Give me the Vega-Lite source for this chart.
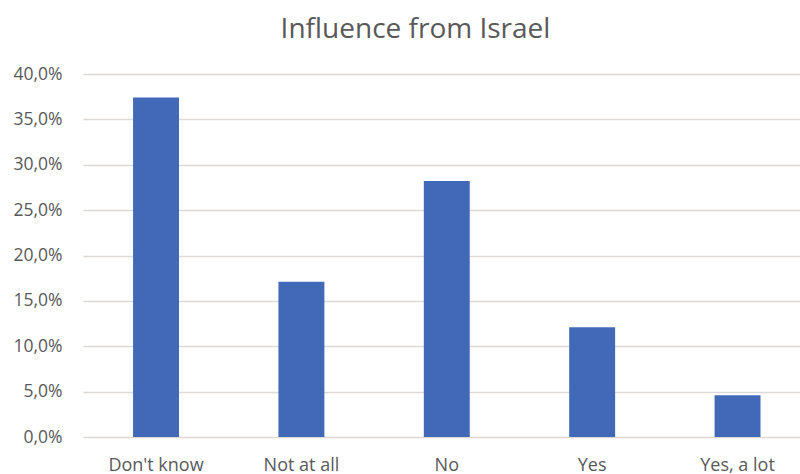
{
  "$schema": "https://vega.github.io/schema/vega-lite/v6.json",
  "autosize": {"type": "none"},
  "width": 717,
  "height": 363,
  "padding": {"left": 83, "top": 74, "right": 0, "bottom": 37},
  "background": "white",
  "title": {
    "text": "Influence from Israel",
    "font": "Open Sans",
    "fontSize": 28,
    "fontWeight": "normal",
    "color": "#595959",
    "anchor": "middle",
    "offset": 21,
    "dx": -26
  },
  "data": {
    "values": [
      {"answer": "Don't know", "share": 0.374},
      {"answer": "Not at all", "share": 0.171},
      {"answer": "No", "share": 0.282},
      {"answer": "Yes", "share": 0.121},
      {"answer": "Yes, a lot", "share": 0.046}
    ]
  },
  "mark": {"type": "bar", "color": "#4169B8"},
  "encoding": {
    "x": {
      "field": "answer",
      "type": "nominal",
      "sort": null,
      "scale": {"paddingInner": 0.684, "paddingOuter": 0.308, "align": 0.559},
      "axis": {
        "title": null,
        "labelAngle": 0,
        "domain": false,
        "ticks": false,
        "labelFont": "Open Sans",
        "labelFontSize": 18,
        "labelColor": "#595959",
        "labelPadding": 19
      }
    },
    "y": {
      "field": "share",
      "type": "quantitative",
      "scale": {"domain": [0, 0.4], "nice": false},
      "axis": {
        "title": null,
        "values": [0, 0.05, 0.1, 0.15, 0.2, 0.25, 0.3, 0.35, 0.4],
        "labelExpr": "replace(format(datum.value, '.1%'), '.', ',')",
        "domain": false,
        "ticks": false,
        "grid": true,
        "gridColor": "#ddd9d6",
        "gridWidth": 1.5,
        "labelFont": "Open Sans",
        "labelFontSize": 17.5,
        "labelColor": "#595959",
        "labelPadding": 21
      }
    }
  },
  "config": {"view": {"stroke": null}}
}
